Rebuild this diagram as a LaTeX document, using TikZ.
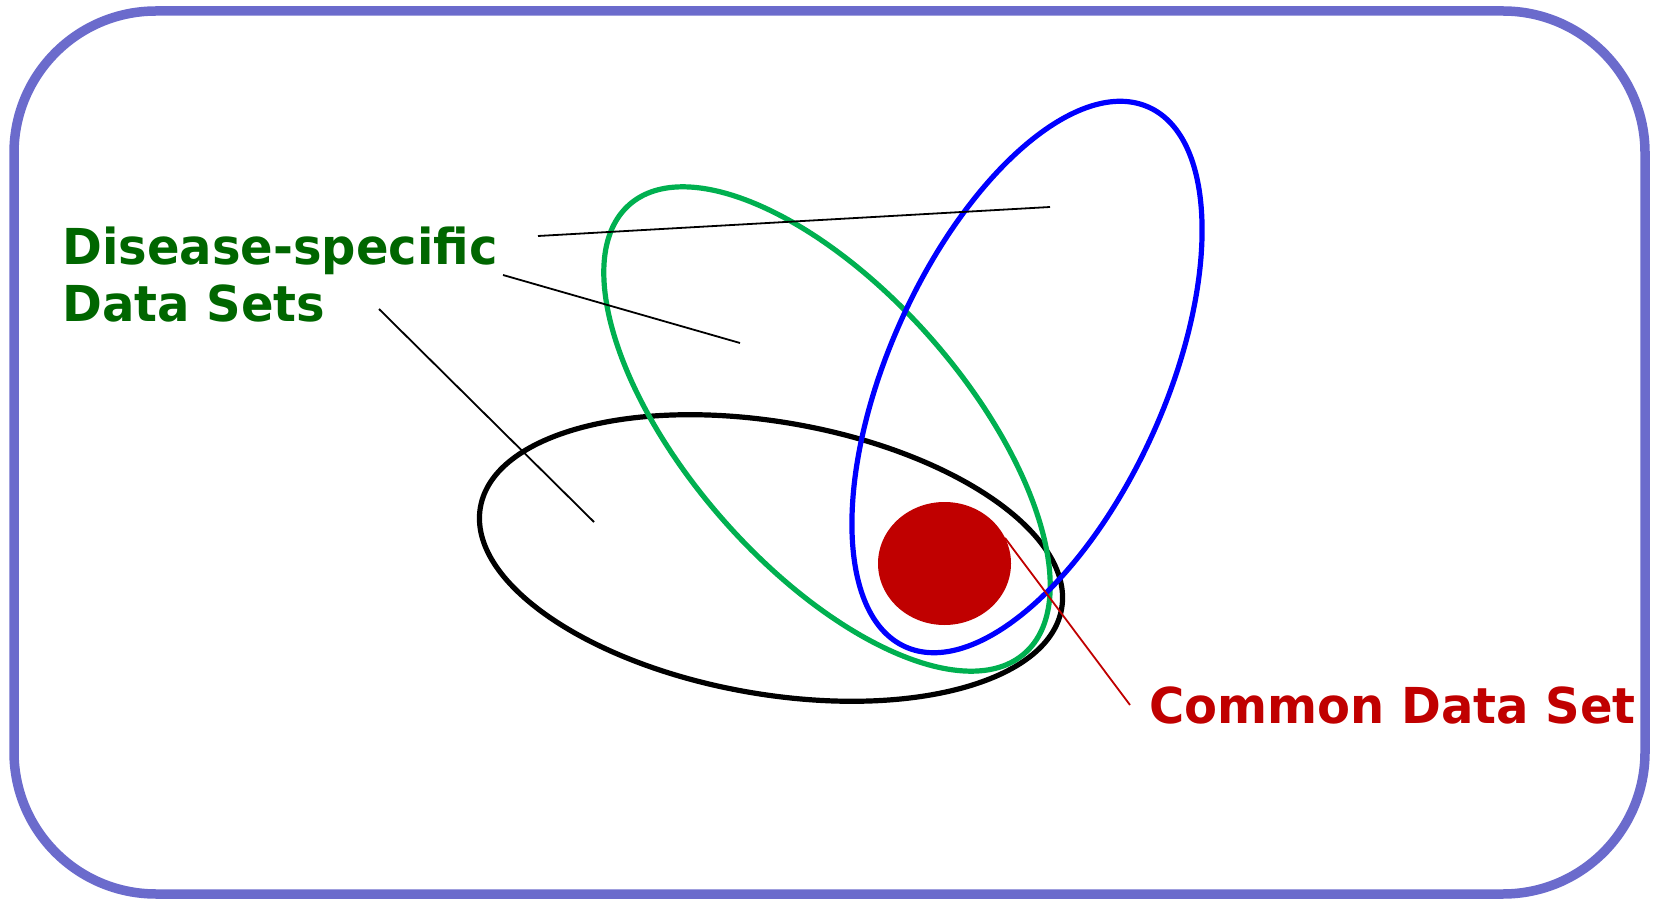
\documentclass[tikz,border=0pt]{standalone}
\usepackage{fontspec}
\newfontfamily\lblfont{DejaVu Sans}[FakeStretch=0.97]
\usetikzlibrary{shapes.geometric}
\definecolor{framecol}{RGB}{107,107,204}
\definecolor{txtgreen}{RGB}{0,102,0}
\definecolor{txtred}{RGB}{192,0,0}
\definecolor{ellgreen}{RGB}{0,176,80}
\definecolor{ellblue}{RGB}{0,0,255}
\tikzset{
  setring/.style={line width=5.2pt},
  leader/.style={line width=1.8pt, black},
  lbltext/.style={inner sep=0pt, font=\lblfont\bfseries\fontsize{49.5}{57}\selectfont},
}
\begin{document}
\begin{tikzpicture}[x=1pt,y=1pt]
\useasboundingbox (0,0) rectangle (1654,898);
% frame
\draw[framecol, line width=9.5pt, rounded corners=142pt] (14,4) rectangle (1645,887);
% ellipses
\draw[setring, black, rotate around={-9.9:(771,340)}] (771,340) ellipse [x radius=295, y radius=136];
\draw[setring, ellgreen, rotate around={-48.6:(827,469)}] (827,469) ellipse [x radius=299, y radius=138];
\draw[setring, ellblue, rotate around={65.7:(1027,521)}] (1027,521) ellipse [x radius=296, y radius=138];
% common data set
\node[ellipse, fill=txtred, draw=none, minimum width=133pt, minimum height=123pt, inner sep=0pt] (cds) at (944.5,334.5) {};
% labels
\node[lbltext, text=txtgreen, anchor=base west] (dis1) at (62,633) {Disease-specific};
\node[lbltext, text=txtgreen, anchor=base west] (dis2) at (62,576) {Data Sets};
\node[lbltext, text=txtred, anchor=base west] (com) at (1149,175) {Common Data Set};
% leader coordinates
\coordinate (l1a) at (538,662);
\coordinate (l1b) at (1050,691);
\coordinate (l2a) at (503,623);
\coordinate (l2b) at (740,555);
\coordinate (l3a) at (379,589);
\coordinate (l3b) at (594,376);
\coordinate (r1a) at (1005,360);
\coordinate (r1b) at (1130,193);
\draw[leader] (l1a) -- (l1b);
\draw[leader] (l2a) -- (l2b);
\draw[leader] (l3a) -- (l3b);
\draw[txtred, line width=1.8pt] (r1a) -- (r1b);
\end{tikzpicture}
\end{document}
